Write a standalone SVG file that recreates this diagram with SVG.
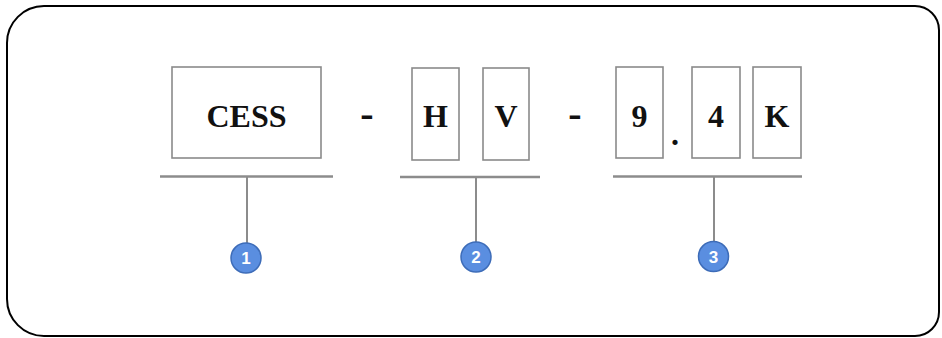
<svg xmlns="http://www.w3.org/2000/svg" width="942" height="338" viewBox="0 0 942 338">
<style>
.box{fill:#fff;stroke:#8a8a8a;stroke-width:1.6}
.lbl{font-family:"Liberation Serif","Times New Roman",serif;font-weight:bold;font-size:32px;fill:#111;text-anchor:middle}
.sep{font-family:"Liberation Serif","Times New Roman",serif;font-weight:bold;font-size:40px;fill:#111;text-anchor:middle}
.bar{stroke:#8c8c8c;stroke-width:2.5;fill:none}
.tick{stroke:#8c8c8c;stroke-width:2;fill:none}
.badge{fill:#5a8ee0;stroke:#3d6cb8;stroke-width:1.5}
.num{font-family:"Liberation Sans",Arial,sans-serif;font-weight:bold;font-size:17px;fill:#fff;text-anchor:middle}
</style>
<rect width="942" height="338" fill="#fff"/>
<path d="M44,6 H915 A24,24 0 0 1 939,30 V312 A24,24 0 0 1 915,336 H44 A37,37 0 0 1 7,299 V43 A37,37 0 0 1 44,6 Z" fill="none" stroke="#000" stroke-width="2"/>
<g id="cess"><rect class="box" x="172" y="67" width="149" height="91"/><text class="lbl" x="246.5" y="127">CESS</text></g>
<g id="dash1"><text class="sep" x="367" y="127">-</text></g>
<g id="h"><rect class="box" x="412" y="68" width="47" height="92"/><text class="lbl" x="435.5" y="127">H</text></g>
<g id="v"><rect class="box" x="483" y="68" width="46" height="92"/><text class="lbl" x="506" y="127">V</text></g>
<g id="dash2"><text class="sep" x="575" y="127">-</text></g>
<g id="nine"><rect class="box" x="616" y="67" width="47" height="91"/><text class="lbl" x="639.5" y="127">9</text></g>
<g id="dot"><text class="lbl" x="675" y="145">.</text></g>
<g id="four"><rect class="box" x="692" y="67" width="48" height="91"/><text class="lbl" x="716" y="127">4</text></g>
<g id="k"><rect class="box" x="753" y="67" width="48" height="91"/><text class="lbl" x="777" y="127">K</text></g>
<g id="connectors">
<line class="bar" x1="160" y1="176.5" x2="333" y2="176.5"/>
<line class="tick" x1="247" y1="176.5" x2="247" y2="243"/>
<line class="bar" x1="400" y1="177" x2="540" y2="177"/>
<line class="tick" x1="476" y1="177" x2="476" y2="242"/>
<line class="bar" x1="613" y1="176.5" x2="802" y2="176.5"/>
<line class="tick" x1="714" y1="176.5" x2="714" y2="241"/>
</g>
<g id="badge1"><circle class="badge" cx="246" cy="258" r="15"/><text class="num" x="246" y="264">1</text></g>
<g id="badge2"><circle class="badge" cx="476" cy="257" r="15"/><text class="num" x="476" y="263">2</text></g>
<g id="badge3"><circle class="badge" cx="713.5" cy="256.5" r="15"/><text class="num" x="713.5" y="262.5">3</text></g>
</svg>
